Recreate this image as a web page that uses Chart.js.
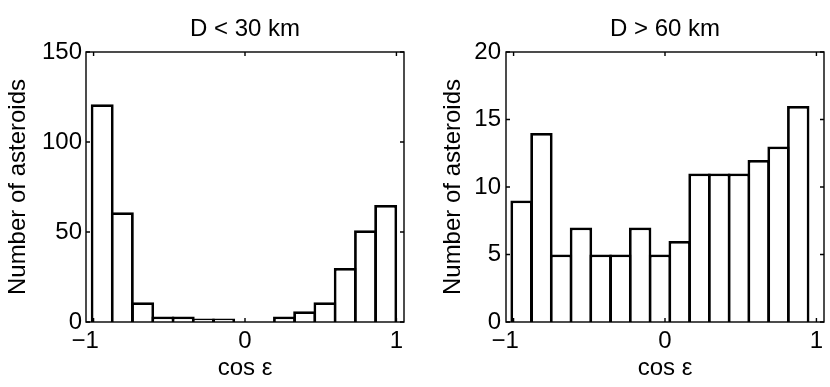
<!DOCTYPE html>
<html>
<head>
<meta charset="utf-8">
<script src="https://cdn.jsdelivr.net/npm/chart.js@4.4.1/dist/chart.umd.min.js"></script>
<style>
  body { margin: 0; background: #fff; }
  .panel { position: absolute; top: 0; width: 415px; height: 387px; }
  #left { left: 0; }
  #right { left: 415px; }
</style>
</head>
<body>
<div class="panel" id="left"><canvas id="chartLeft" width="415" height="387"></canvas></div>
<div class="panel" id="right"><canvas id="chartRight" width="415" height="387"></canvas></div>
<script>
// bin centres (cos ε) and counts
const binCentersLeft = [-0.943, -0.810, -0.676, -0.542, -0.408, -0.275, -0.141, -0.007,
  0.127, 0.261, 0.394, 0.528, 0.662, 0.796, 0.929];
const countsLeft = [121, 61, 11, 3, 3, 2, 2, 0, 0, 3, 6, 11, 30, 51, 65];

const binCentersRight = [-0.947, -0.816, -0.686, -0.555, -0.425, -0.294, -0.164, -0.033,
  0.097, 0.228, 0.358, 0.489, 0.619, 0.750, 0.880];
const countsRight = [9, 14, 5, 7, 5, 5, 7, 5, 6, 11, 11, 11, 12, 13, 16];

const xTicks = [-1, 0, 1];
const yTicksLeft = [0, 50, 100, 150];
const yTicksRight = [0, 5, 10, 15, 20];

const FONT = "'Liberation Sans', Arial, Helvetica, sans-serif";
const TICK_LEN = 4;

// matlab style box with inward ticks on all four sides
const boxPlugin = {
  id: "matlabBox",
  afterDatasetsDraw(chart) {
    const { ctx, chartArea: a, scales: { x, y } } = chart;
    ctx.save();
    ctx.strokeStyle = "#000";
    ctx.lineWidth = 1.4;
    ctx.strokeRect(a.left, a.top, a.right - a.left, a.bottom - a.top);
    ctx.beginPath();
    x.ticks.forEach((t) => {
      const px = x.getPixelForValue(t.value);
      ctx.moveTo(px, a.bottom);
      ctx.lineTo(px, a.bottom - TICK_LEN);
      ctx.moveTo(px, a.top);
      ctx.lineTo(px, a.top + TICK_LEN);
    });
    y.ticks.forEach((t) => {
      const py = y.getPixelForValue(t.value);
      ctx.moveTo(a.left, py);
      ctx.lineTo(a.left + TICK_LEN, py);
      ctx.moveTo(a.right, py);
      ctx.lineTo(a.right - TICK_LEN, py);
    });
    ctx.stroke();
    ctx.restore();
  },
};

const makeChart = (id, centers, counts, yTicks, title, opts) => {
  const points = centers.map((c, i) => ({ x: c, y: counts[i] }));
  return new Chart(document.getElementById(id), {
    type: "bar",
    data: {
      datasets: [{
        data: points,
        backgroundColor: "#fff",
        borderColor: "#000",
        borderWidth: 2.8,
        borderSkipped: "start",
        barPercentage: 1.14,
        categoryPercentage: 1,
      }],
    },
    options: {
      responsive: false,
      animation: false,
      devicePixelRatio: 1,
      layout: { padding: { left: 0, right: opts.padRight, top: 0, bottom: 0 } },
      plugins: {
        legend: { display: false },
        tooltip: { enabled: false },
        title: {
          display: true,
          text: title,
          fullSize: false,
          color: "#000",
          font: { family: FONT, size: 24, weight: "normal" },
          padding: { top: 14.6, bottom: 8.6 },
        },
      },
      scales: {
        x: {
          type: "linear",
          min: -1.05,
          max: 1.05,
          offset: false,
          grid: { display: false, drawTicks: false, offset: false },
          border: { display: false },
          afterBuildTicks: (s) => { s.ticks = xTicks.map((v) => ({ value: v })); },
          afterFit: (s) => { s.height = 65; },
          ticks: {
            color: "#000",
            padding: 5,
            maxRotation: 0,
            font: { family: FONT, size: 24 },
            // matlab hangs the minus sign left of the tick
            callback: (v) => (v < 0 ? "\u2212" + Math.abs(v) + "\u2002\u2009" : String(v)),
          },
          title: {
            display: true,
            text: "cos \u03b5",
            color: "#000",
            font: { family: FONT, size: 24 },
            padding: { top: 0, bottom: 4 },
          },
        },
        y: {
          min: yTicks[0],
          max: yTicks[yTicks.length - 1],
          grid: { display: false, drawTicks: false },
          border: { display: false },
          afterBuildTicks: (s) => { s.ticks = yTicks.map((v) => ({ value: v })); },
          afterFit: (s) => { s.width = opts.yWidth; },
          ticks: {
            color: "#000",
            padding: opts.tickPad,
            font: { family: FONT, size: 24 },
          },
          title: {
            display: true,
            text: "Number of asteroids",
            color: "#000",
            font: { family: FONT, size: 24 },
            padding: { top: opts.titlePad, bottom: 0 },
          },
        },
      },
    },
    plugins: [boxPlugin],
  });
};

makeChart("chartLeft", binCentersLeft, countsLeft, yTicksLeft, "D < 30 km",
  { yWidth: 86, padRight: 11, tickPad: 4, titlePad: 4 });
makeChart("chartRight", binCentersRight, countsRight, yTicksRight, "D > 60 km",
  { yWidth: 91, padRight: 6, tickPad: 5, titlePad: 24 });
</script>
</body>
</html>
